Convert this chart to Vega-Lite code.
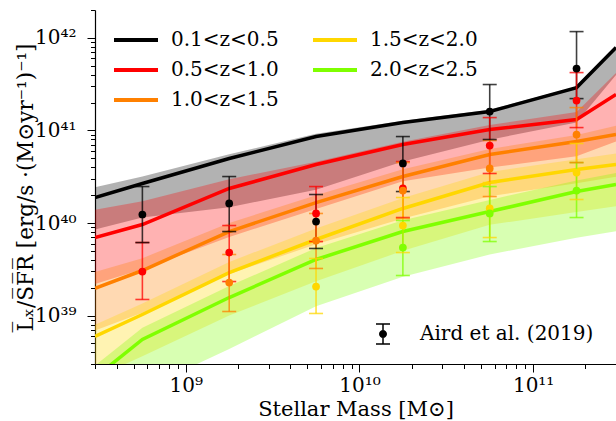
{
  "$schema": "https://vega.github.io/schema/vega-lite/v6.json",
  "width": 521,
  "height": 354,
  "autosize": {"type": "none"},
  "padding": {"left": 95, "top": 10, "right": 0, "bottom": 57},
  "background": "white",
  "config": {
    "view": {"stroke": null},
    "font": "DejaVu Serif",
    "axis": {
      "labelFont": "DejaVu Serif", "labelFontSize": 20, "labelColor": "black",
      "titleFont": "DejaVu Serif", "titleFontSize": 21, "titleFontWeight": "normal", "titleColor": "black",
      "domainColor": "black", "domainWidth": 1.2, "tickColor": "black", "tickWidth": 1,
      "grid": false, "labelFlush": false, "labelOverlap": false, "labelBound": false
    }
  },
  "datasets": {
    "model": [
      {"z": "0.1<z<0.5", "m": 3e8, "y": 1.884e40, "hi": 2.427e40, "lo": 8.511e39},
      {"z": "0.1<z<0.5", "m": 5.623e8, "y": 2.673e40, "hi": 3.177e40, "lo": 1.148e40},
      {"z": "0.1<z<0.5", "m": 1.778e9, "y": 4.977e40, "hi": 5.521e40, "lo": 1.479e40},
      {"z": "0.1<z<0.5", "m": 5.623e9, "y": 8.590e40, "hi": 9.204e40, "lo": 2.291e40},
      {"z": "0.1<z<0.5", "m": 1.778e10, "y": 1.216e41, "hi": 1.274e41, "lo": 4.624e40},
      {"z": "0.1<z<0.5", "m": 5.623e10, "y": 1.600e41, "hi": 1.675e41, "lo": 7.943e40},
      {"z": "0.1<z<0.5", "m": 1.778e11, "y": 2.904e41, "hi": 2.972e41, "lo": 1.219e41},
      {"z": "0.1<z<0.5", "m": 3e11, "y": 7.852e41, "hi": 8.035e41, "lo": 3.981e41},
      {"z": "0.5<z<1.0", "m": 3e8, "y": 6.966e39, "hi": 1.390e40, "lo": 2.188e39},
      {"z": "0.5<z<1.0", "m": 5.623e8, "y": 9.638e39, "hi": 1.714e40, "lo": 3.162e39},
      {"z": "0.5<z<1.0", "m": 1.778e9, "y": 2.360e40, "hi": 2.972e40, "lo": 7.079e39},
      {"z": "0.5<z<1.0", "m": 5.623e9, "y": 4.285e40, "hi": 4.592e40, "lo": 1.413e40},
      {"z": "0.5<z<1.0", "m": 1.778e10, "y": 7.047e40, "hi": 7.551e40, "lo": 2.818e40},
      {"z": "0.5<z<1.0", "m": 5.623e10, "y": 1.023e41, "hi": 1.148e41, "lo": 3.981e40},
      {"z": "0.5<z<1.0", "m": 1.778e11, "y": 1.312e41, "hi": 1.578e41, "lo": 5.248e40},
      {"z": "0.5<z<1.0", "m": 3e11, "y": 2.443e41, "hi": 4.169e41, "lo": 7.586e40},
      {"z": "1.0<z<1.5", "m": 3e8, "y": 1.963e39, "hi": 2.951e39, "lo": 6.918e38},
      {"z": "1.0<z<1.5", "m": 5.623e8, "y": 3.069e39, "hi": 4.169e39, "lo": 1.072e39},
      {"z": "1.0<z<1.5", "m": 1.778e9, "y": 8.091e39, "hi": 1.0e40, "lo": 2.818e39},
      {"z": "1.0<z<1.5", "m": 5.623e9, "y": 1.663e40, "hi": 1.995e40, "lo": 5.888e39},
      {"z": "1.0<z<1.5", "m": 1.778e10, "y": 3.177e40, "hi": 3.802e40, "lo": 1.122e40},
      {"z": "1.0<z<1.5", "m": 5.623e10, "y": 5.495e40, "hi": 6.310e40, "lo": 1.950e40},
      {"z": "1.0<z<1.5", "m": 1.778e11, "y": 7.586e40, "hi": 8.913e40, "lo": 2.692e40},
      {"z": "1.0<z<1.5", "m": 3e11, "y": 9.036e40, "hi": 1.122e41, "lo": 3.162e40},
      {"z": "1.5<z<2.0", "m": 3e8, "y": 5.943e38, "hi": 7.943e38, "lo": 2.138e38},
      {"z": "1.5<z<2.0", "m": 5.623e8, "y": 1.028e39, "hi": 1.349e39, "lo": 3.631e38},
      {"z": "1.5<z<2.0", "m": 1.778e9, "y": 2.917e39, "hi": 3.802e39, "lo": 1.0e39},
      {"z": "1.5<z<2.0", "m": 5.623e9, "y": 6.637e39, "hi": 8.710e39, "lo": 2.344e39},
      {"z": "1.5<z<2.0", "m": 1.778e10, "y": 1.436e40, "hi": 1.862e40, "lo": 5.012e39},
      {"z": "1.5<z<2.0", "m": 5.623e10, "y": 2.735e40, "hi": 3.548e40, "lo": 9.550e39},
      {"z": "1.5<z<2.0", "m": 1.778e11, "y": 3.784e40, "hi": 4.898e40, "lo": 1.318e40},
      {"z": "1.5<z<2.0", "m": 3e11, "y": 4.285e40, "hi": 5.623e40, "lo": 1.514e40},
      {"z": "2.0<z<2.5", "m": 3e8, "y": 2.148e38, "hi": 2.884e38, "lo": 6.310e37},
      {"z": "2.0<z<2.5", "m": 5.623e8, "y": 5.521e38, "hi": 7.413e38, "lo": 1.585e38},
      {"z": "2.0<z<2.5", "m": 1.778e9, "y": 1.567e39, "hi": 2.089e39, "lo": 4.365e38},
      {"z": "2.0<z<2.5", "m": 5.623e9, "y": 4.036e39, "hi": 5.370e39, "lo": 1.259e39},
      {"z": "2.0<z<2.5", "m": 1.778e10, "y": 8.091e39, "hi": 1.072e40, "lo": 2.630e39},
      {"z": "2.0<z<2.5", "m": 5.623e10, "y": 1.330e40, "hi": 1.778e40, "lo": 4.571e39},
      {"z": "2.0<z<2.5", "m": 1.778e11, "y": 2.188e40, "hi": 2.884e40, "lo": 6.918e39},
      {"z": "2.0<z<2.5", "m": 3e11, "y": 2.606e40, "hi": 3.467e40, "lo": 8.128e39}
    ],
    "obs": [
      {"z": "0.1<z<0.5", "ref": "Aird et al. (2019)", "m": 5.623e8, "y": 1.236e40, "lo": 6.152e39, "hi": 2.477e40},
      {"z": "0.1<z<0.5", "ref": "Aird et al. (2019)", "m": 1.778e9, "y": 1.626e40, "lo": 8.091e39, "hi": 3.177e40},
      {"z": "0.1<z<0.5", "ref": "Aird et al. (2019)", "m": 5.623e9, "y": 1.038e40, "lo": 5.309e39, "hi": 2.032e40},
      {"z": "0.1<z<0.5", "ref": "Aird et al. (2019)", "m": 1.778e10, "y": 4.395e40, "lo": 2.188e40, "hi": 8.590e40},
      {"z": "0.1<z<0.5", "ref": "Aird et al. (2019)", "m": 5.623e10, "y": 1.600e41, "lo": 7.980e40, "hi": 3.133e41},
      {"z": "0.1<z<0.5", "ref": "Aird et al. (2019)", "m": 1.778e11, "y": 4.656e41, "lo": 2.208e41, "hi": 1.169e42},
      {"z": "0.5<z<1.0", "ref": "Aird et al. (2019)", "m": 5.623e8, "y": 2.992e39, "lo": 1.493e39, "hi": 6.152e39},
      {"z": "0.5<z<1.0", "ref": "Aird et al. (2019)", "m": 1.778e9, "y": 4.797e39, "lo": 2.333e39, "hi": 9.397e39},
      {"z": "0.5<z<1.0", "ref": "Aird et al. (2019)", "m": 5.623e9, "y": 1.268e40, "lo": 6.310e39, "hi": 2.477e40},
      {"z": "0.5<z<1.0", "ref": "Aird et al. (2019)", "m": 1.778e10, "y": 2.360e40, "lo": 1.146e40, "hi": 4.613e40},
      {"z": "0.5<z<1.0", "ref": "Aird et al. (2019)", "m": 5.623e10, "y": 6.871e40, "lo": 3.428e40, "hi": 1.377e41},
      {"z": "0.5<z<1.0", "ref": "Aird et al. (2019)", "m": 1.778e11, "y": 2.104e41, "lo": 1.074e41, "hi": 4.217e41},
      {"z": "1.0<z<1.5", "ref": "Aird et al. (2019)", "m": 1.778e9, "y": 2.275e39, "lo": 1.107e39, "hi": 4.571e39},
      {"z": "1.0<z<1.5", "ref": "Aird et al. (2019)", "m": 5.623e9, "y": 6.471e39, "lo": 3.228e39, "hi": 1.268e40},
      {"z": "1.0<z<1.5", "ref": "Aird et al. (2019)", "m": 1.778e10, "y": 2.244e40, "lo": 1.119e40, "hi": 4.498e40},
      {"z": "1.0<z<1.5", "ref": "Aird et al. (2019)", "m": 5.623e10, "y": 3.882e40, "lo": 1.932e40, "hi": 7.780e40},
      {"z": "1.0<z<1.5", "ref": "Aird et al. (2019)", "m": 1.778e11, "y": 9.036e40, "lo": 4.498e40, "hi": 1.766e41},
      {"z": "1.5<z<2.0", "ref": "Aird et al. (2019)", "m": 5.623e9, "y": 2.061e39, "lo": 1.054e39, "hi": 4.140e39},
      {"z": "1.5<z<2.0", "ref": "Aird et al. (2019)", "m": 1.778e10, "y": 9.397e39, "lo": 4.797e39, "hi": 1.884e40},
      {"z": "1.5<z<2.0", "ref": "Aird et al. (2019)", "m": 5.623e10, "y": 1.436e40, "lo": 6.966e39, "hi": 2.735e40},
      {"z": "1.5<z<2.0", "ref": "Aird et al. (2019)", "m": 1.778e11, "y": 3.508e40, "lo": 1.795e40, "hi": 7.228e40},
      {"z": "2.0<z<2.5", "ref": "Aird et al. (2019)", "m": 1.778e10, "y": 5.433e39, "lo": 2.710e39, "hi": 1.064e40},
      {"z": "2.0<z<2.5", "ref": "Aird et al. (2019)", "m": 5.623e10, "y": 1.268e40, "lo": 6.310e39, "hi": 2.477e40},
      {"z": "2.0<z<2.5", "ref": "Aird et al. (2019)", "m": 1.778e11, "y": 2.244e40, "lo": 1.146e40, "hi": 4.498e40}
    ]
  },
  "encoding": {
    "x": {
      "field": "m", "type": "quantitative",
      "scale": {"type": "log", "domain": [3e8, 3e11], "nice": false},
      "axis": {
        "title": "Stellar Mass [M⊙]",
        "values": [3e8, 4e8, 5e8, 6e8, 7e8, 8e8, 9e8, 1e9, 2e9, 3e9, 4e9, 5e9, 6e9, 7e9, 8e9, 9e9, 1e10, 2e10, 3e10, 4e10, 5e10, 6e10, 7e10, 8e10, 9e10, 1e11, 2e11],
        "labelExpr": "datum.value == 1e9 ? '10⁹' : datum.value == 1e10 ? '10¹⁰' : datum.value == 1e11 ? '10¹¹' : ''",
        "tickSize": {"condition": {"test": "indexof([1e9, 1e10, 1e11], datum.value) >= 0", "value": 8}, "value": 4.5},
        "labelPadding": 3,
        "titlePadding": 3
      }
    },
    "color": {
      "field": "z", "type": "nominal",
      "scale": {
        "domain": ["0.1<z<0.5", "0.5<z<1.0", "1.0<z<1.5", "1.5<z<2.0", "2.0<z<2.5"],
        "range": ["#000000", "#ff0000", "#ff8000", "#ffd700", "#7fff00"]
      },
      "legend": {
        "title": null, "orient": "none", "legendX": 17, "legendY": 18, "padding": 0,
        "columns": 2, "columnPadding": 32, "rowPadding": 6, "clipHeight": 24,
        "symbolType": "stroke", "symbolSize": 1936, "symbolStrokeWidth": 4, "symbolOpacity": 1,
        "labelFont": "DejaVu Serif", "labelFontSize": 20, "labelColor": "black", "labelOffset": 11
      }
    }
  },
  "layer": [
    {
      "data": {"name": "model"},
      "mark": {"type": "area", "opacity": 0.3, "clip": true},
      "encoding": {
        "y": {
          "field": "lo", "type": "quantitative",
          "scale": {"type": "log", "domain": [3e38, 2e42], "nice": false},
          "axis": {
            "title": "L̅ₓ/S̅F̅R̅ [erg/s ·(M⊙yr⁻¹)⁻¹]",
            "titleFontSize": 21.5,
            "values": [3e38, 4e38, 5e38, 6e38, 7e38, 8e38, 9e38, 1e39, 2e39, 3e39, 4e39, 5e39, 6e39, 7e39, 8e39, 9e39, 1e40, 2e40, 3e40, 4e40, 5e40, 6e40, 7e40, 8e40, 9e40, 1e41, 2e41, 3e41, 4e41, 5e41, 6e41, 7e41, 8e41, 9e41, 1e42, 2e42],
            "labelExpr": "datum.value == 1e39 ? '10³⁹' : datum.value == 1e40 ? '10⁴⁰' : datum.value == 1e41 ? '10⁴¹' : datum.value == 1e42 ? '10⁴²' : ''",
            "tickSize": {"condition": {"test": "indexof([1e39, 1e40, 1e41, 1e42], datum.value) >= 0", "value": 8}, "value": 4.5},
            "labelPadding": 11,
            "titlePadding": -3
          }
        },
        "y2": {"field": "hi"}
      }
    },
    {
      "data": {"name": "model"},
      "mark": {"type": "line", "strokeWidth": 3.5, "clip": true},
      "encoding": {"y": {"field": "y", "type": "quantitative", "scale": {"type": "log", "domain": [3e38, 2e42], "nice": false}}}
    },
    {
      "data": {"name": "obs"},
      "mark": {"type": "rule", "strokeWidth": 1.6, "opacity": 0.75},
      "encoding": {"y": {"field": "lo", "type": "quantitative", "scale": {"type": "log", "domain": [3e38, 2e42], "nice": false}}, "y2": {"field": "hi"}}
    },
    {
      "data": {"name": "obs"},
      "mark": {"type": "tick", "orient": "horizontal", "size": 14, "thickness": 1.6, "opacity": 0.75},
      "encoding": {"y": {"field": "hi", "type": "quantitative", "scale": {"type": "log", "domain": [3e38, 2e42], "nice": false}}}
    },
    {
      "data": {"name": "obs"},
      "mark": {"type": "tick", "orient": "horizontal", "size": 14, "thickness": 1.6, "opacity": 0.75},
      "encoding": {"y": {"field": "lo", "type": "quantitative", "scale": {"type": "log", "domain": [3e38, 2e42], "nice": false}}}
    },
    {
      "data": {"name": "obs"},
      "mark": {"type": "point", "filled": true, "size": 60, "opacity": 1, "shape": "circle"},
      "encoding": {
        "y": {"field": "y", "type": "quantitative", "scale": {"type": "log", "domain": [3e38, 2e42], "nice": false}}
      }
    },
    {
      "data": {"name": "obs"},
      "mark": {"type": "point", "filled": true, "size": 400, "opacity": 0},
      "encoding": {
        "y": {"field": "y", "type": "quantitative", "scale": {"type": "log", "domain": [3e38, 2e42], "nice": false}},
        "color": {"value": "black"},
        "shape": {
          "field": "ref", "type": "nominal",
          "scale": {"range": ["M-0.7,-1.075H0.7V-0.925H-0.7Z M-0.075,-1H0.075V1H-0.075Z M-0.7,0.925H0.7V1.075H-0.7Z M0.4,0A0.4,0.4,0,1,1,-0.4,0A0.4,0.4,0,1,1,0.4,0Z"]},
          "legend": {
            "title": null, "orient": "none", "legendX": 278, "legendY": 314, "padding": 0,
            "symbolSize": 400, "symbolStrokeWidth": 0, "symbolFillColor": "black", "symbolOpacity": 1,
            "labelFont": "DejaVu Serif", "labelFontSize": 20, "labelColor": "black", "labelOffset": 27, "labelLimit": 400
          }
        }
      }
    },
    {
      "data": {"values": [{}]},
      "mark": {"type": "rule", "strokeWidth": 1.2},
      "encoding": {
        "x": {"datum": 3e8, "type": "quantitative", "scale": {"type": "log", "domain": [3e8, 3e11], "nice": false}},
        "x2": {"datum": 3e11},
        "y": {"datum": 2e42, "type": "quantitative", "scale": {"type": "log", "domain": [3e38, 2e42], "nice": false}},
        "color": {"value": "black"}
      }
    }
  ]
}
